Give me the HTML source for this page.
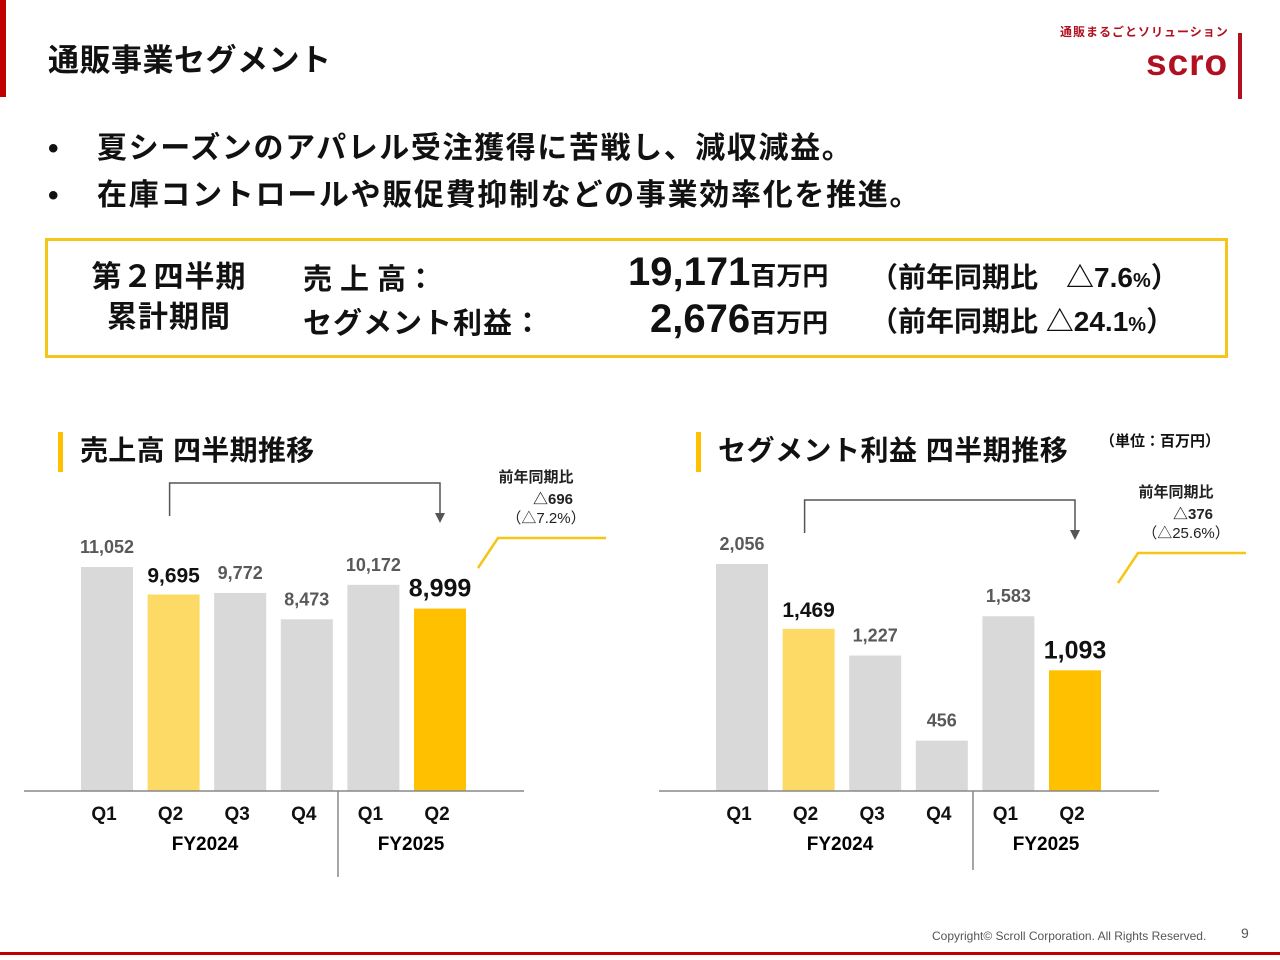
<!DOCTYPE html>
<html><head><meta charset="utf-8"><style>
body{margin:0;width:1280px;height:960px;background:#fff;position:relative;overflow:hidden;font-family:"Liberation Sans","Noto Sans CJK JP",sans-serif;color:#111}
.a{position:absolute;white-space:nowrap}
b{font-weight:700}
</style></head><body>
<div class="a" style="left:0;top:0;width:6px;height:97px;background:#c00000"></div>
<div class="a" style="left:48px;top:35px;font-size:31px;font-weight:700;letter-spacing:0.5px">通販事業セグメント</div>
<div class="a" style="left:1060px;top:23px;font-size:12px;color:#b01020;letter-spacing:1px;font-weight:700">通販まるごとソリューション</div>
<div class="a" style="left:1146px;top:42px;font-size:37px;color:#b01020;letter-spacing:1px;font-weight:700">scro</div>
<div class="a" style="left:1238px;top:33px;width:4px;height:66px;background:#b01020"></div>
<div class="a" style="left:48px;top:123px;font-size:30px;font-weight:700;letter-spacing:1.6px"><span style="display:inline-block;width:49px">•</span>夏シーズンのアパレル受注獲得に苦戦し、減収減益。</div>
<div class="a" style="left:48px;top:170px;font-size:30px;font-weight:700;letter-spacing:1.7px"><span style="display:inline-block;width:49px">•</span>在庫コントロールや販促費抑制などの事業効率化を推進。</div>
<div class="a" style="left:45px;top:238px;width:1177px;height:114px;border:3px solid #f5c518"></div>
<div class="a" style="left:90px;top:258px;width:158px;font-size:30px;font-weight:700;text-align:center;line-height:40px;letter-spacing:1px">第２四半期<br>累計期間</div>
<div class="a" style="left:303px;top:256px;font-size:29px;font-weight:700">売 上 高：</div>
<div class="a" style="left:303px;top:300px;font-size:29px;font-weight:700;letter-spacing:1px">セグメント利益：</div>
<div class="a" style="left:628px;top:250px;font-size:40px;font-weight:700">19,171<span style="font-size:26px">百万円</span></div>
<div class="a" style="left:650px;top:297px;font-size:40px;font-weight:700">2,676<span style="font-size:26px">百万円</span></div>
<div class="a" style="left:870px;top:256px;font-size:28px;font-weight:700">（前年同期比　△7.6<span style="font-size:20px">%</span>）</div>
<div class="a" style="left:870px;top:300px;font-size:28px;font-weight:700">（前年同期比 △24.1<span style="font-size:20px">%</span>）</div>
<div class="a" style="left:1100px;top:430px;font-size:15px;font-weight:700">（単位：百万円）</div>
<svg class="a" style="left:0;top:0" width="1280" height="960" id="svg"></svg>
<div class="a" style="left:932px;top:929px;font-size:12px;color:#555">Copyright© Scroll Corporation. All Rights Reserved.</div>
<div class="a" style="left:1241px;top:925px;font-size:14px;color:#555">9</div>
<div class="a" style="left:0;top:952px;width:1280px;height:3px;background:#c00000"></div>
<script>
const quarters=["Q1","Q2","Q3","Q4","Q1","Q2"];
const salesValues=[11052,9695,9772,8473,10172,8999];
const profitValues=[2056,1469,1227,456,1583,1093];
const salesMax=11052, profitMax=2056;
const NS="http://www.w3.org/2000/svg";
const svg=document.getElementById('svg');
function el(t,a,txt){const e=document.createElementNS(NS,t);for(const k in a)e.setAttribute(k,a[k]);if(txt!=null)e.textContent=txt;svg.appendChild(e);return e;}
function chart(o){
  const base=791;
  const y=v=>base-v/o.max*o.h;
  const x=i=>o.x0+i*66.6;
  const r=el('rect',{x:o.tx-22,y:432,width:5,height:40,fill:'#ffc000'});
  
  const t=el('text',{x:o.tx,y:460,'font-size':28,'font-weight':700,fill:'#111','letter-spacing':o.ls},o.title);
  
  o.vals.forEach((v,i)=>{
    const col=i==5?'#ffc000':i==1?'#fdd966':'#d9d9d9';
    const b=el('rect',{x:x(i)-26,y:y(v),width:52,height:base-y(v),fill:col});
    
    const big=(i==1||i==5);
    const l=el('text',{x:x(i),y:y(v)-(big?12:14),'font-size':big?(i==5?25:21):18,'font-weight':700,fill:big?'#111':'#595959','text-anchor':'middle'},v.toLocaleString('en-US'));
    
    const q=el('text',{x:x(i)-3,y:820,'font-size':19,'font-weight':700,fill:'#111','text-anchor':'middle'},quarters[i]);
    
  });
  const ax=el('line',{x1:o.x0-83,x2:o.x0+417,y1:base,y2:base,stroke:'#888','stroke-width':1.5});
  
  const d=el('line',{x1:o.x0+231,x2:o.x0+231,y1:base,y2:o.dy,stroke:'#888','stroke-width':1.5});
  
  const f1=el('text',{x:o.x0+98,y:850,'font-size':19,'font-weight':700,'text-anchor':'middle'},'FY2024');
  
  const f2=el('text',{x:o.x0+304,y:850,'font-size':19,'font-weight':700,'text-anchor':'middle'},'FY2025');
  
  const br=el('polyline',{points:`${x(1)-4},${o.by+33} ${x(1)-4},${o.by} ${x(5)},${o.by} ${x(5)},${o.by+30}`,fill:'none',stroke:'#555','stroke-width':1.5});
  
  const ar=el('polygon',{points:`${x(5)-5},${o.by+30} ${x(5)+5},${o.by+30} ${x(5)},${o.by+40}`,fill:'#555'});
  
  const yl=el('polyline',{points:`${o.lx},${o.ly+30} ${o.lx+20},${o.ly} ${o.lx+128},${o.ly}`,fill:'none',stroke:'#f5c518','stroke-width':2.5});
  
  [['前年同期比',o.lx+58,o.ly-56],[o.d1,o.lx+75,o.ly-34],[o.d2,o.lx+68,o.ly-15]].forEach((c,k)=>{
    const tt=el('text',{x:c[1],y:c[2],'font-size':15,'font-weight':k==2?400:700,fill:'#222','text-anchor':'middle'},c[0]);
    
  });
}
chart({p:'sales',vals:salesValues,max:salesMax,h:224,x0:107,tx:80,ls:0.3,title:'売上高 四半期推移',dy:877,by:483,lx:478,ly:538,d1:'△696',d2:'（△7.2%）'});
chart({p:'profit',vals:profitValues,max:profitMax,h:227,x0:742,tx:718,ls:0.5,title:'セグメント利益 四半期推移',dy:870,by:500,lx:1118,ly:553,d1:'△376',d2:'（△25.6%）'});
</script>
</body></html>
